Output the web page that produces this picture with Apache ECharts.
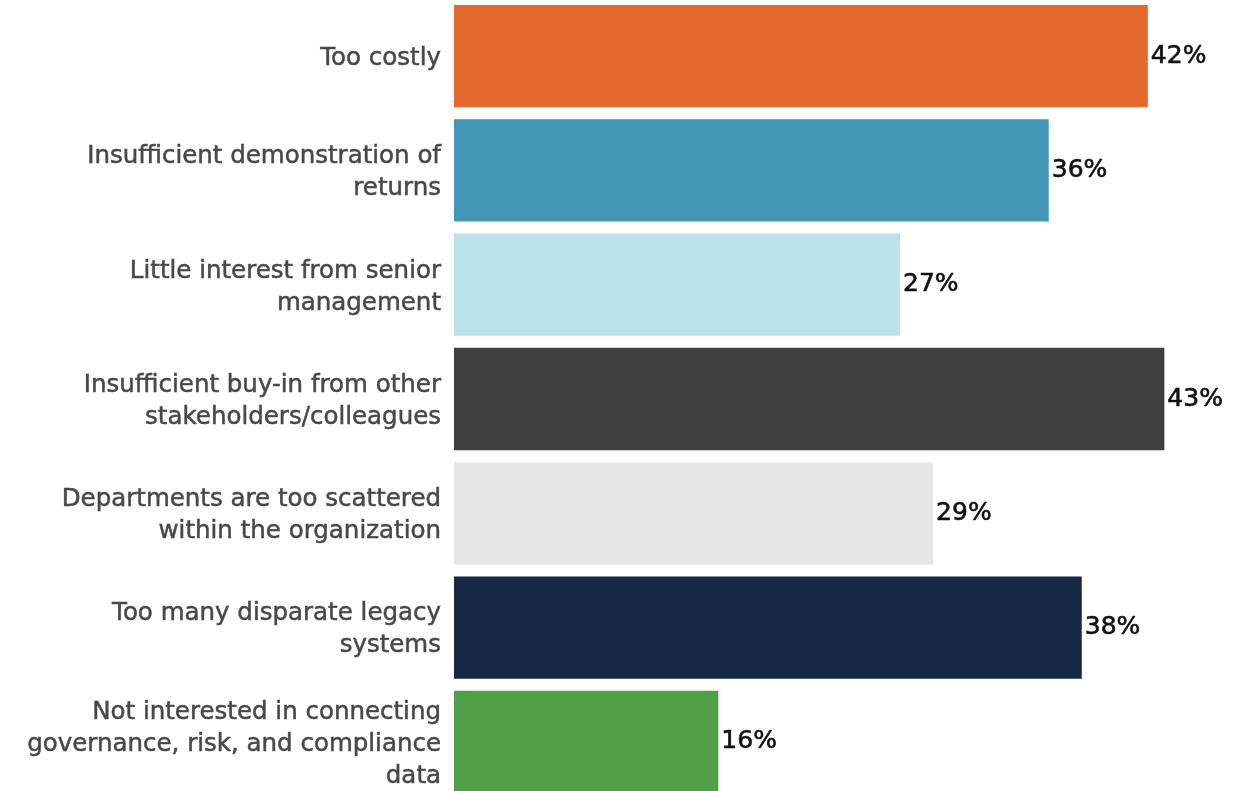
<!DOCTYPE html>
<html>
<head>
<meta charset="utf-8">
<style>
  html, body { margin: 0; padding: 0; background: #ffffff; }
  #chart { width: 1233px; height: 791px; }
</style>
<script src="https://cdn.jsdelivr.net/npm/echarts@6/dist/echarts.min.js"></script>
</head>
<body>
<div id="chart"></div>
<script>
// Barriers, listed top to bottom
const categories = [
  'Too costly',
  'Insufficient demonstration of\nreturns',
  'Little interest from senior\nmanagement',
  'Insufficient buy-in from other\nstakeholders/colleagues',
  'Departments are too scattered\nwithin the organization',
  'Too many disparate legacy\nsystems',
  'Not interested in connecting\ngovernance, risk, and compliance\ndata'
];
const values = [42, 36, 27, 43, 29, 38, 16];
const barColors = ['#E36A2C', '#4197B5', '#BAE2EA', '#404040', '#E6E6E6', '#152845', '#4E9F46'];

const chart = echarts.init(document.getElementById('chart'));
chart.setOption({
  animation: false,
  grid: {
    left: 454, top: -1, width: 743.4, height: 800,
    containLabel: false,
    outerBoundsMode: 'none'
  },
  xAxis: {
    type: 'value', min: 0, max: 45,
    show: false
  },
  yAxis: {
    type: 'category',
    inverse: true,
    data: categories,
    axisLine: { show: false },
    axisTick: { show: false },
    axisLabel: {
      margin: 13,
      align: 'right',
      formatter: v => v.split('\n').map(s => '{c|' + s + '}').join('\n'),
      rich: {
        c: {
          color: '#484848',
          textBorderColor: '#484848',
          textBorderWidth: 0.5,
          fontFamily: 'DejaVu Sans',
          fontSize: 24.5,
          lineHeight: 32,
          padding: [5, 0, 0, 0],
          align: 'right'
        }
      }
    }
  },
  series: [{
    type: 'bar',
    barCategoryGap: '10.5%',
    data: values.map((v, i) => ({ value: v, itemStyle: { color: barColors[i] } })),
    label: {
      show: true,
      position: 'right',
      distance: 3,
      color: '#111111',
      textBorderColor: '#111111',
      textBorderWidth: 0.6,
      fontFamily: 'DejaVu Sans',
      fontSize: 25,
      formatter: p => p.value + '%'
    }
  }]
});
</script>
</body>
</html>
